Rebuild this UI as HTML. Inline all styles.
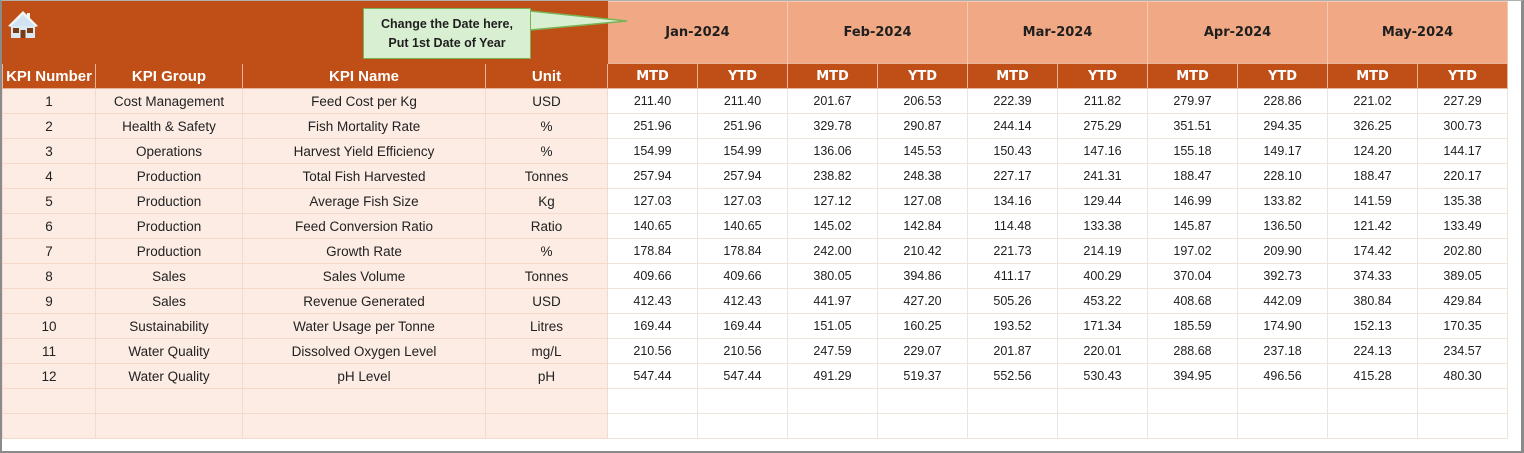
<!DOCTYPE html>
<html>
<head>
<meta charset="utf-8">
<style>
html,body{margin:0;padding:0;width:1524px;height:453px;overflow:hidden;background:#fff;}
.frame{position:absolute;left:0;top:0;width:1524px;height:453px;box-sizing:border-box;border-top:1px solid #b0b0b0;border-left:2px solid #8a8a8a;border-right:3px solid #8a8a8a;border-bottom:2px solid #8a8a8a;}
table{position:absolute;left:2px;top:1px;border-collapse:collapse;table-layout:fixed;width:1505px;}
td{padding:0;text-align:center;vertical-align:middle;white-space:nowrap;overflow:hidden;}
tr.h1 td{height:61px;}
tr.h2 td{height:24px;background:#BF4F17;color:#fff;border:1px solid #e8b49a;}
tr.d td{height:24px;}
.band{background:#BF4F17;border:1px solid #BF4F17;}
.mon{background:#F0A984;color:#1f1f1f;font-family:"DejaVu Sans",sans-serif;font-weight:bold;font-size:13px;border-left:1px solid #f6c8b0;border-right:1px solid #f6c8b0;border-top:1px solid #f6c8b0;}
.kh{font-family:"Liberation Sans",sans-serif;font-weight:bold;font-size:15px;}
.mh{font-family:"DejaVu Sans",sans-serif;font-weight:bold;font-size:13px;}
.p{background:#FCECE4;border:1px solid #f5dacb;font-family:"Liberation Sans",sans-serif;font-size:13.5px;color:#222;}
.w{background:#fff;border:1px solid #ede4dc;font-family:"Liberation Sans",sans-serif;font-size:12.5px;color:#1f1f1f;}
.callout{position:absolute;left:363px;top:8px;width:166px;height:43px;background:#D9EFD2;border:1.5px solid #78b356;font-family:"Liberation Sans",sans-serif;font-weight:bold;font-size:12.5px;color:#1f1f1f;text-align:center;line-height:19px;padding-top:6px;box-sizing:content-box;}
svg.ov{position:absolute;left:0;top:0;}
</style>
</head>
<body>
<div class="frame"></div>
<table>
<colgroup>
<col style="width:93px"><col style="width:147px"><col style="width:243px"><col style="width:122px">
<col style="width:90px"><col style="width:90px"><col style="width:90px"><col style="width:90px"><col style="width:90px"><col style="width:90px"><col style="width:90px"><col style="width:90px"><col style="width:90px"><col style="width:90px">
</colgroup>
<tr class="h1">
<td class="band" colspan="4"></td>
<td class="mon" colspan="2">Jan-2024</td>
<td class="mon" colspan="2">Feb-2024</td>
<td class="mon" colspan="2">Mar-2024</td>
<td class="mon" colspan="2">Apr-2024</td>
<td class="mon" colspan="2">May-2024</td>
</tr>
<tr class="h2">
<td class="kh">KPI Number</td><td class="kh">KPI Group</td><td class="kh">KPI Name</td><td class="kh">Unit</td>
<td class="mh">MTD</td><td class="mh">YTD</td><td class="mh">MTD</td><td class="mh">YTD</td><td class="mh">MTD</td><td class="mh">YTD</td><td class="mh">MTD</td><td class="mh">YTD</td><td class="mh">MTD</td><td class="mh">YTD</td>
</tr>
<tr class="d"><td class="p">1</td><td class="p">Cost Management</td><td class="p">Feed Cost per Kg</td><td class="p">USD</td><td class="w">211.40</td><td class="w">211.40</td><td class="w">201.67</td><td class="w">206.53</td><td class="w">222.39</td><td class="w">211.82</td><td class="w">279.97</td><td class="w">228.86</td><td class="w">221.02</td><td class="w">227.29</td></tr>
<tr class="d"><td class="p">2</td><td class="p">Health &amp; Safety</td><td class="p">Fish Mortality Rate</td><td class="p">%</td><td class="w">251.96</td><td class="w">251.96</td><td class="w">329.78</td><td class="w">290.87</td><td class="w">244.14</td><td class="w">275.29</td><td class="w">351.51</td><td class="w">294.35</td><td class="w">326.25</td><td class="w">300.73</td></tr>
<tr class="d"><td class="p">3</td><td class="p">Operations</td><td class="p">Harvest Yield Efficiency</td><td class="p">%</td><td class="w">154.99</td><td class="w">154.99</td><td class="w">136.06</td><td class="w">145.53</td><td class="w">150.43</td><td class="w">147.16</td><td class="w">155.18</td><td class="w">149.17</td><td class="w">124.20</td><td class="w">144.17</td></tr>
<tr class="d"><td class="p">4</td><td class="p">Production</td><td class="p">Total Fish Harvested</td><td class="p">Tonnes</td><td class="w">257.94</td><td class="w">257.94</td><td class="w">238.82</td><td class="w">248.38</td><td class="w">227.17</td><td class="w">241.31</td><td class="w">188.47</td><td class="w">228.10</td><td class="w">188.47</td><td class="w">220.17</td></tr>
<tr class="d"><td class="p">5</td><td class="p">Production</td><td class="p">Average Fish Size</td><td class="p">Kg</td><td class="w">127.03</td><td class="w">127.03</td><td class="w">127.12</td><td class="w">127.08</td><td class="w">134.16</td><td class="w">129.44</td><td class="w">146.99</td><td class="w">133.82</td><td class="w">141.59</td><td class="w">135.38</td></tr>
<tr class="d"><td class="p">6</td><td class="p">Production</td><td class="p">Feed Conversion Ratio</td><td class="p">Ratio</td><td class="w">140.65</td><td class="w">140.65</td><td class="w">145.02</td><td class="w">142.84</td><td class="w">114.48</td><td class="w">133.38</td><td class="w">145.87</td><td class="w">136.50</td><td class="w">121.42</td><td class="w">133.49</td></tr>
<tr class="d"><td class="p">7</td><td class="p">Production</td><td class="p">Growth Rate</td><td class="p">%</td><td class="w">178.84</td><td class="w">178.84</td><td class="w">242.00</td><td class="w">210.42</td><td class="w">221.73</td><td class="w">214.19</td><td class="w">197.02</td><td class="w">209.90</td><td class="w">174.42</td><td class="w">202.80</td></tr>
<tr class="d"><td class="p">8</td><td class="p">Sales</td><td class="p">Sales Volume</td><td class="p">Tonnes</td><td class="w">409.66</td><td class="w">409.66</td><td class="w">380.05</td><td class="w">394.86</td><td class="w">411.17</td><td class="w">400.29</td><td class="w">370.04</td><td class="w">392.73</td><td class="w">374.33</td><td class="w">389.05</td></tr>
<tr class="d"><td class="p">9</td><td class="p">Sales</td><td class="p">Revenue Generated</td><td class="p">USD</td><td class="w">412.43</td><td class="w">412.43</td><td class="w">441.97</td><td class="w">427.20</td><td class="w">505.26</td><td class="w">453.22</td><td class="w">408.68</td><td class="w">442.09</td><td class="w">380.84</td><td class="w">429.84</td></tr>
<tr class="d"><td class="p">10</td><td class="p">Sustainability</td><td class="p">Water Usage per Tonne</td><td class="p">Litres</td><td class="w">169.44</td><td class="w">169.44</td><td class="w">151.05</td><td class="w">160.25</td><td class="w">193.52</td><td class="w">171.34</td><td class="w">185.59</td><td class="w">174.90</td><td class="w">152.13</td><td class="w">170.35</td></tr>
<tr class="d"><td class="p">11</td><td class="p">Water Quality</td><td class="p">Dissolved Oxygen Level</td><td class="p">mg/L</td><td class="w">210.56</td><td class="w">210.56</td><td class="w">247.59</td><td class="w">229.07</td><td class="w">201.87</td><td class="w">220.01</td><td class="w">288.68</td><td class="w">237.18</td><td class="w">224.13</td><td class="w">234.57</td></tr>
<tr class="d"><td class="p">12</td><td class="p">Water Quality</td><td class="p">pH Level</td><td class="p">pH</td><td class="w">547.44</td><td class="w">547.44</td><td class="w">491.29</td><td class="w">519.37</td><td class="w">552.56</td><td class="w">530.43</td><td class="w">394.95</td><td class="w">496.56</td><td class="w">415.28</td><td class="w">480.30</td></tr>
<tr class="d"><td class="p"></td><td class="p"></td><td class="p"></td><td class="p"></td><td class="w"></td><td class="w"></td><td class="w"></td><td class="w"></td><td class="w"></td><td class="w"></td><td class="w"></td><td class="w"></td><td class="w"></td><td class="w"></td></tr>
<tr class="d"><td class="p"></td><td class="p"></td><td class="p"></td><td class="p"></td><td class="w"></td><td class="w"></td><td class="w"></td><td class="w"></td><td class="w"></td><td class="w"></td><td class="w"></td><td class="w"></td><td class="w"></td><td class="w"></td></tr>
</table>

<svg class="ov" width="1524" height="453" viewBox="0 0 1524 453">
  <polygon points="530,11 627,21 530,30" fill="#D9EFD2" stroke="#78b356" stroke-width="1.5"/>
  <g>
    <rect x="27" y="13" width="3" height="8" fill="#f2f2f2"/>
    <polygon points="23,11 8,26 11,27 23,15 35,27 38,26" fill="#f4f4f4"/>
    <polygon points="23,15 11,26 11,38 35,38 35,26" fill="#dbe9f5"/>
    <polygon points="23,15 11,26 35,26" fill="#cfe3f3"/>
    <rect x="13" y="28" width="6" height="5" fill="#7a3b14"/>
    <rect x="27" y="28" width="6" height="5" fill="#7a3b14"/>
    <rect x="20.5" y="30" width="5" height="8" fill="#7a3b14"/>
  </g>
</svg>
<div class="callout">Change the Date here,<br>Put 1st Date of Year</div>
</body>
</html>
